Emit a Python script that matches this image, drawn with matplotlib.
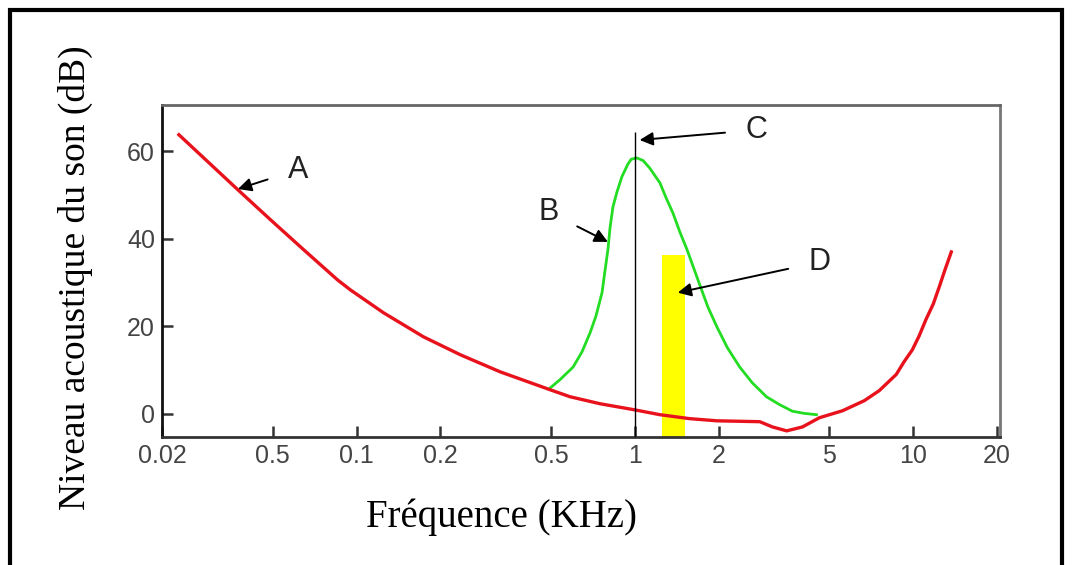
import matplotlib
matplotlib.use("Agg")
import matplotlib.pyplot as plt
from matplotlib.patches import Rectangle

# threshold of hearing (curve A)
red_freq = [0.023, 0.0375, 0.0492, 0.0646, 0.0855, 0.0952, 0.125, 0.174, 0.236,
            0.328, 0.496, 0.585, 0.75, 1.0, 1.23, 1.57, 1.97, 2.81, 3.12, 3.51, 4.0,
            4.6, 5.57, 6.67, 7.55, 8.69, 9.27, 9.92, 10.5, 11.1, 11.8, 12.4,
            13.0, 13.7]
red_db = [63.8, 51.2, 44.3, 37.5, 30.6, 28.3, 23.1, 17.6, 13.5,
          9.6, 5.5, 3.9, 2.3, 0.9, -0.2, -1.1, -1.6, -1.8, -3.0, -3.9, -3.0,
          -0.9, 0.7, 3.0, 5.3, 9.0, 11.9, 14.6, 17.8, 21.5, 25.1, 29.0,
          32.9, 37.0]

# masking curve (curve B)
green_freq = [0.496, 0.538, 0.600, 0.646, 0.690, 0.725, 0.762, 0.780, 0.800,
              0.814, 0.834, 0.862, 0.898, 0.944, 0.97, 1.017, 1.07, 1.13, 1.23,
              1.29, 1.37, 1.45, 1.54, 1.71, 1.83, 1.97, 2.15, 2.38, 2.64, 2.97,
              3.31, 3.68, 4.06, 4.49]
green_db = [5.9, 7.8, 10.7, 14.2, 18.5, 22.4, 27.7, 32.5, 37.5,
            42.5, 47.3, 50.7, 54.2, 57.1, 58.2, 58.5, 57.9, 56.2, 52.8,
            49.6, 45.9, 41.6, 37.5, 29.5, 24.4, 19.9, 15.1, 10.7, 7.1, 3.9,
            2.1, 0.6, 0.1, -0.2]

# masker tone (C) and masked band (D)
masker_freq = 1.0
masker_top = 64.5
band_lo, band_hi = 1.25, 1.51
band_top = 36.3

ylim = (-5.3, 70.6)
xlim = (0.02, 20.5)
xticks = [0.02, 0.05, 0.1, 0.2, 0.5, 1, 2, 5, 10, 20]
xticklabels = ["0.02", "0.5", "0.1", "0.2", "0.5", "1", "2", "5", "10", "20"]
yticks = [0, 20, 40, 60]

# label, text position, arrow tip
labels = [
    ("A", (0.0615, 55.8), (0.0375, 51.4)),
    ("B", (0.488, 46.2), (0.80, 39.3)),
    ("C", (2.74, 64.9), (1.04, 62.6)),
    ("D", (4.61, 34.7), (1.426, 27.7)),
]

fig = plt.figure(figsize=(10.74, 5.65), dpi=100)
ax = fig.add_axes([162 / 1074, 1 - 437 / 565, (1000 - 162) / 1074, (437 - 105) / 565])

ax.bar([(band_lo + band_hi) / 2], [band_top - ylim[0]], width=[band_hi - band_lo],
       bottom=ylim[0], color="#ffff00", zorder=1)
ax.plot(red_freq, red_db, color="#e8121c", lw=2.4, zorder=3, solid_joinstyle="round")
ax.plot(green_freq, green_db, color="#22dd22", lw=2.0, zorder=2, solid_joinstyle="round")
ax.vlines(masker_freq, ylim[0], masker_top, color="black", lw=1.0, zorder=4)

for name, txt, tip in labels:
    ax.annotate(name, xy=tip, xytext=txt, fontsize=22, family="Liberation Sans",
                color="#222222", ha="center", va="center",
                arrowprops=dict(arrowstyle="-|>", color="black", lw=1.4,
                                mutation_scale=20, shrinkA=13, shrinkB=0))

ax.set_xscale("log")
ax.set_xlim(*xlim)
ax.set_ylim(*ylim)
ax.set_xticks(xticks)
ax.set_xticklabels(xticklabels)
ax.minorticks_off()
ax.set_yticks(yticks)
ax.tick_params(direction="in", length=8, width=1.8, colors="#333333",
               labelsize=18, pad=5)
for lab in ax.get_xticklabels() + ax.get_yticklabels():
    lab.set_family("Liberation Sans")
    lab.set_color("#444444")

ax.spines["left"].set_color("#111111")
ax.spines["bottom"].set_color("#333333")
ax.spines["top"].set_color("#666666")
ax.spines["right"].set_color("#777777")
for s in ax.spines.values():
    s.set_linewidth(2)

fig.text(75 / 1074, 1 - 278 / 565, "Niveau acoustique du son (dB)", rotation=90,
         ha="center", va="center", fontsize=27, family="Liberation Serif")
fig.text(502 / 1074, 1 - 517 / 565, "Fréquence (KHz)", ha="center", va="center",
         fontsize=28, family="Liberation Serif")

# outer frame
fig.add_artist(Rectangle((10 / 1074, -0.05), (1062 - 10) / 1074, 1.05 - 10 / 565,
                         transform=fig.transFigure, fill=False, lw=3, color="black"))

fig.savefig("out.png", dpi=100)
